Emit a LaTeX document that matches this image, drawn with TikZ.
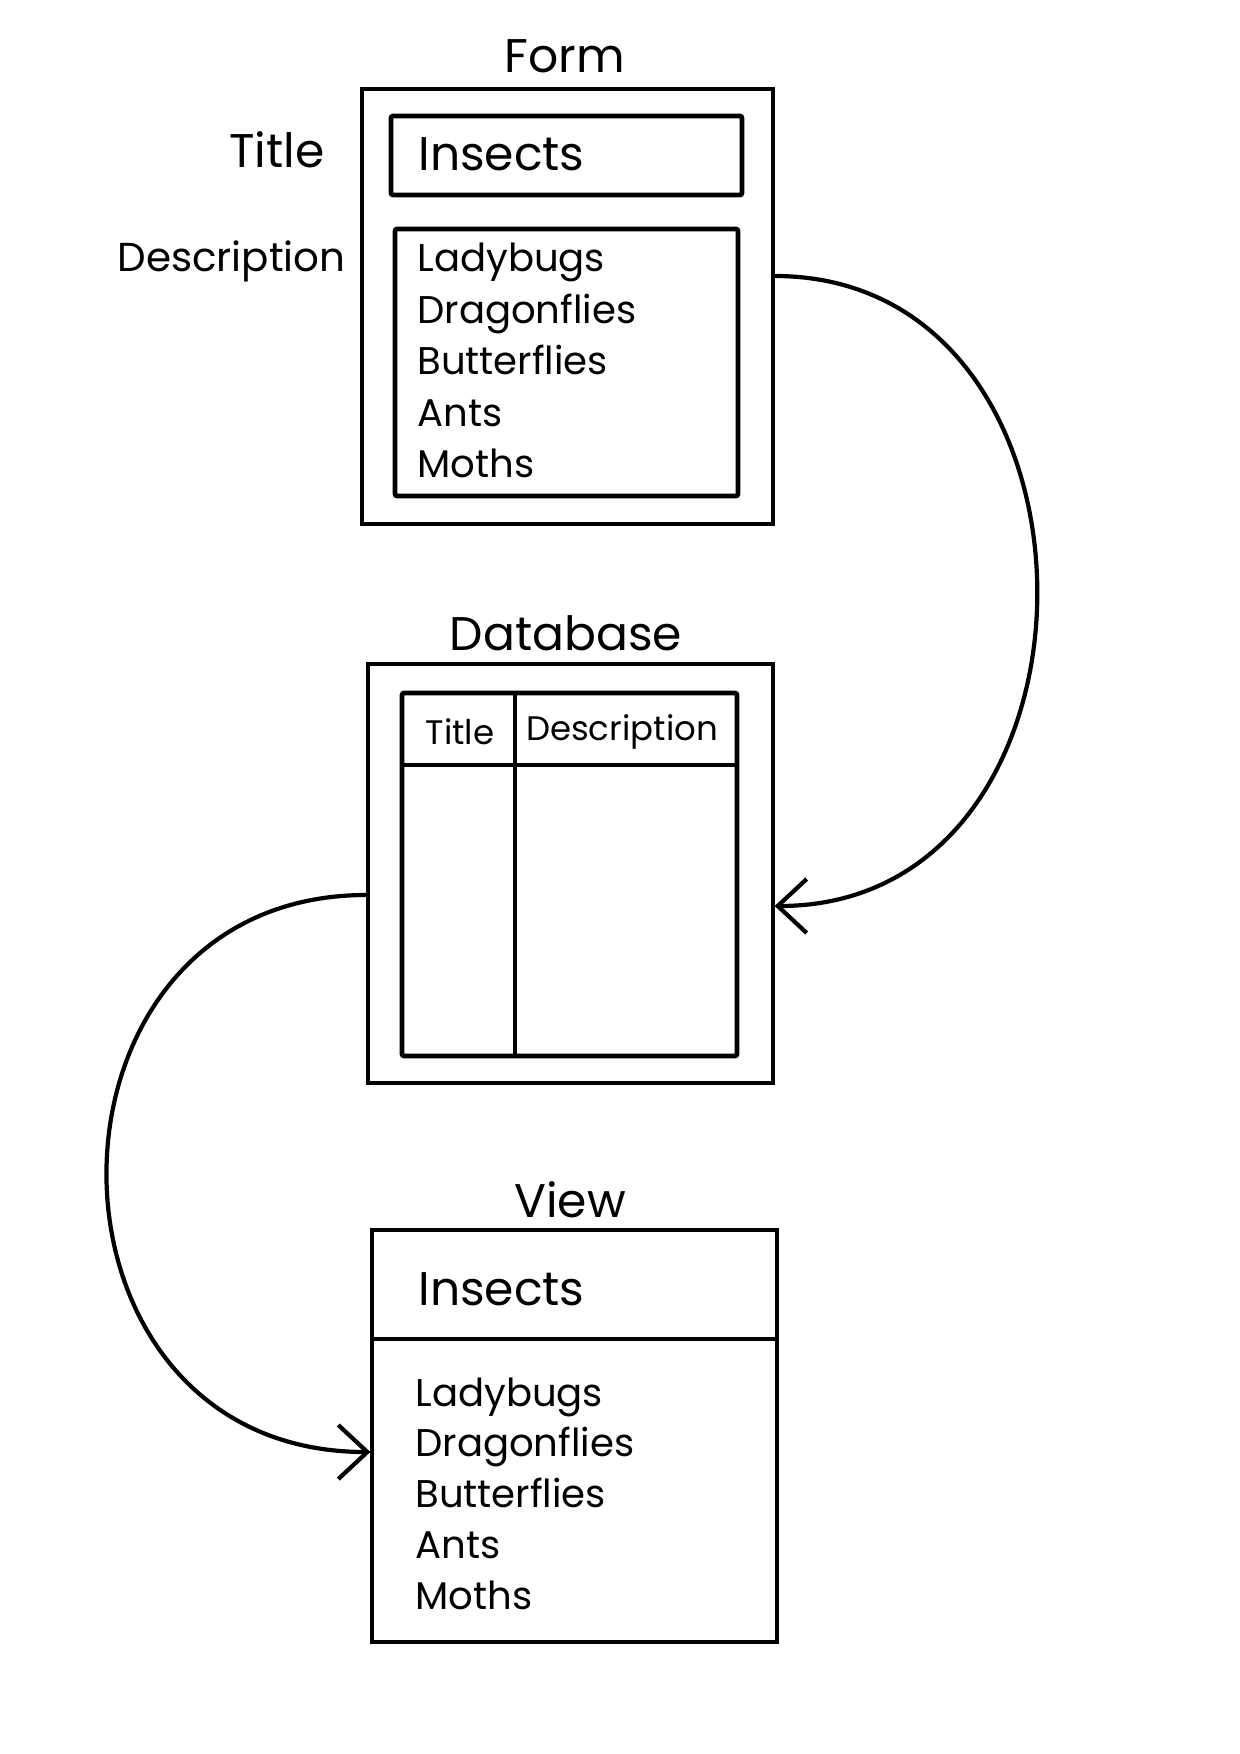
\documentclass[tikz,border=0pt]{standalone}
\usepackage{fontspec}
\setmainfont{Poppins}
\usepackage{tikz}
\usetikzlibrary{arrows.meta,positioning,calc}
\tikzset{
outerbox/.style = {draw, fill=white, rectangle, line width=1.6pt, inner sep=0pt},
inbox/.style = {draw, rectangle, line width=2.3pt, rounded corners=1pt, inner sep=0pt},
rule/.style = {line width=2.3pt},
head/.style = {anchor=base, inner sep=0pt, font=\fontsize{23.6}{28}\selectfont},
sidetext/.style = {anchor=base east, inner sep=0pt},
item/.style = {anchor=base west, inner sep=0pt, font=\fontsize{19.3}{23}\selectfont},
colhead/.style = {anchor=base, inner sep=0pt, font=\fontsize{17}{20}\selectfont},
link/.style = {line width=2.1pt, ->}
}
\begin{document}
\begin{tikzpicture}[x=0.5pt, y=-0.5pt, >={Straight Barb[length=14.5pt,width=27pt]}]
    \useasboundingbox (0,0) rectangle (1240,1754);
    % Form
    \node [head] (formhead) at (565,73) {Form};
    \node [outerbox, minimum width=205.5pt, minimum height=217.5pt] (form) at (567.5,306.5) {};
    \node [inbox, minimum width=175.5pt, minimum height=39.5pt] (titlebox) at (566.5,155.5) {};
    \node [inbox, minimum width=171.5pt, minimum height=133.5pt] (descbox) at (566.5,362.5) {};
    \node [sidetext, font=\fontsize{23.6}{28}\selectfont] (titlelbl) at (325,168) {Title};
    \node [sidetext, font=\fontsize{20.2}{24}\selectfont] (desclbl) at (346,272) {Description};
    \node [head, anchor=base west] (ftitle) at (418,171) {Insects};
    \node [item] (f1) at (417,272) {Ladybugs};
    \node [item] (f2) at ([yshift=-25.75pt]f1.base west) {Dragonflies};
    \node [item] (f3) at ([yshift=-25.75pt]f2.base west) {Butterflies};
    \node [item] (f4) at ([yshift=-25.75pt]f3.base west) {Ants};
    \node [item] (f5) at ([yshift=-25.75pt]f4.base west) {Moths};
    % Database
    \node [head] (dbhead) at (566,650) {Database};
    \node [outerbox, minimum width=202.5pt, minimum height=209.5pt] (db) at (570.5,873.5) {};
    \node [inbox, minimum width=167.5pt, minimum height=181.5pt] (table) at (569.5,874.5) {};
    \draw [rule] (515,0 |- table.north) -- (515,0 |- table.south);
    \draw [rule] (table.west |- 0,765) -- (table.east |- 0,765);
    \node [colhead] (coltitle) at (460,744) {Title};
    \node [colhead] (coldesc) at (622,740) {Description};
    % View
    \node [head] (viewhead) at (570,1217) {View};
    \node [outerbox, minimum width=202.5pt, minimum height=206pt] (view) at (574.5,1436) {};
    \draw [rule] (view.west |- 0,1339) -- (view.east |- 0,1339);
    \node [head, anchor=base west] (vtitle) at (418,1305) {Insects};
    \node [item] (v1) at (415,1406) {Ladybugs};
    \node [item] (v2) at ([yshift=-25.4pt]v1.base west) {Dragonflies};
    \node [item] (v3) at ([yshift=-25.4pt]v2.base west) {Butterflies};
    \node [item] (v4) at ([yshift=-25.4pt]v3.base west) {Ants};
    \node [item] (v5) at ([yshift=-25.4pt]v4.base west) {Moths};
    % links
    \draw [link] (form.east |- 0,276) .. controls (1124,276) and (1124,906) .. (db.east |- 0,906);
    \draw [link] (db.west |- 0,895) .. controls (20,895) and (20,1452) .. (view.west |- 0,1452);
\end{tikzpicture}
\end{document}
